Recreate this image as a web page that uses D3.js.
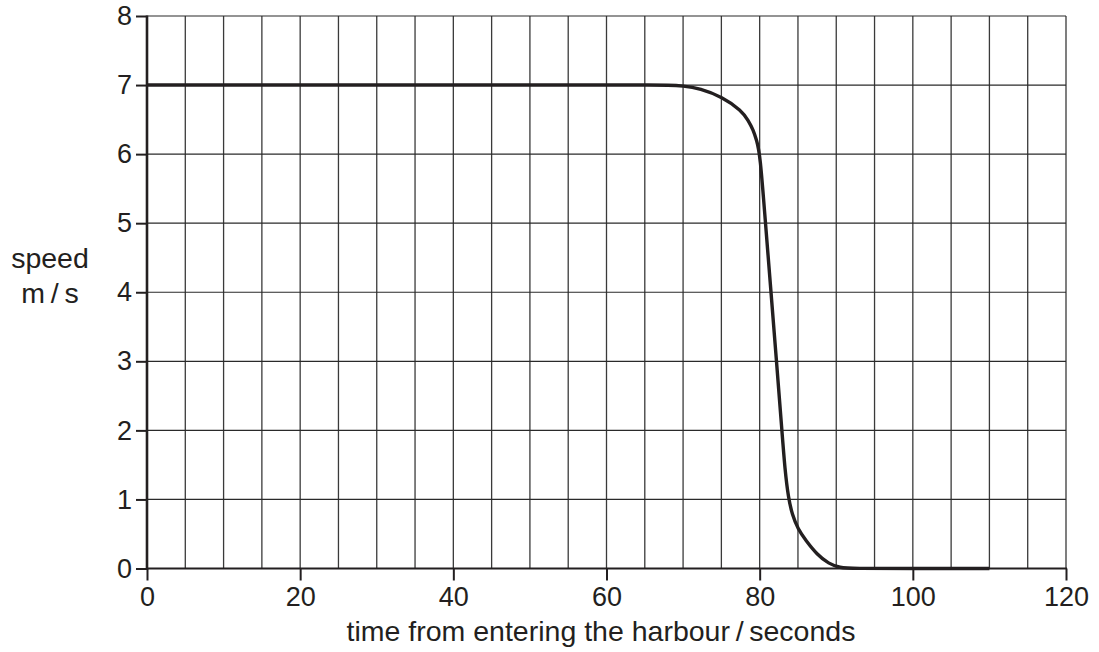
<!DOCTYPE html>
<html><head><meta charset="utf-8">
<script src="https://cdn.jsdelivr.net/npm/d3@7"></script>
<style>body{margin:0;background:#fff}svg{display:block}text{font-family:"Liberation Sans",Arial,sans-serif;fill:#231f20}</style>
</head><body><svg id="c" width="1099" height="652"></svg>
<script>
const xTicks = [0,20,40,60,80,100,120];
const yTicks = [0,1,2,3,4,5,6,7,8];
const times  = [0,60,66,68,70,72.2,75.1,77.65,78.5,79.17,79.6,80.05,80.76,81.48,82.2,82.9,83.3,83.75,84.25,85,86,87.5,89,90.5,92,100,110];
const speeds = [7,7,7,7,6.99,6.95,6.83,6.63,6.49,6.35,6.2,6.01,5,4,3,2,1.43,1.02,0.78,0.57,0.41,0.2,0.07,0.01,0,0,0];
const xLabel = "time from entering the harbour\u2009/\u2009seconds";
const yLabel1 = "speed", yLabel2 = "m\u2009/\u2009s";

const svg = d3.select("#c");
const x = d3.scaleLinear().domain([0,120]).range([147,1066]);
const y = d3.scaleLinear().domain([0,8]).range([568.5,16]);
const ink = "#231f20";

// grid
const g = svg.append("g");
g.selectAll("line.v").data(d3.range(5,121,5)).join("line")
  .attr("x1",d=>x(d)).attr("x2",d=>x(d)).attr("y1",y(0)).attr("y2",y(8))
  .attr("stroke","#3a3a3a").attr("stroke-width",1.3);
g.selectAll("line.h").data(yTicks.slice(1)).join("line")
  .attr("x1",x(0)).attr("x2",x(120)).attr("y1",d=>y(d)).attr("y2",d=>y(d))
  .attr("stroke","#2a2a2a").attr("stroke-width",1.2);

// axes
const xa = svg.append("g").attr("transform",`translate(0,${y(0)})`)
  .call(d3.axisBottom(x).tickValues(xTicks).tickSize(12).tickPadding(6));
xa.select(".domain").remove();
xa.selectAll("line").attr("stroke",ink).attr("stroke-width",2);
xa.selectAll("text").attr("font-size",27).attr("fill",ink);

const ya = svg.append("g").attr("transform",`translate(${x(0)},0)`)
  .call(d3.axisLeft(y).tickValues(yTicks).tickSize(11).tickPadding(4));
ya.select(".domain").remove();
ya.selectAll("line").attr("stroke",ink).attr("stroke-width",2);
ya.selectAll("text").attr("font-size",27).attr("fill",ink);

svg.append("line").attr("x1",x(0)).attr("x2",x(0)).attr("y1",y(0)+1).attr("y2",y(8)-0.5)
  .attr("stroke",ink).attr("stroke-width",2.6);
svg.append("line").attr("x1",x(0)).attr("x2",x(120)+1).attr("y1",y(0)).attr("y2",y(0))
  .attr("stroke",ink).attr("stroke-width",2);

// curve
const data = times.map((t,i)=>[t,speeds[i]]);
svg.append("path").datum(data)
  .attr("d",d3.line().x(d=>x(d[0])).y(d=>y(d[1])).curve(d3.curveBasis))
  .attr("fill","none").attr("stroke",ink).attr("stroke-width",3.4).attr("stroke-linejoin","round");

// labels
svg.append("text").attr("x",601).attr("y",641).attr("text-anchor","middle").attr("font-size",28.5).text(xLabel);
svg.append("text").attr("x",50).attr("y",268).attr("text-anchor","middle").attr("font-size",28.5).text(yLabel1);
svg.append("text").attr("x",50).attr("y",303).attr("text-anchor","middle").attr("font-size",28.5).text(yLabel2);
</script></body></html>
